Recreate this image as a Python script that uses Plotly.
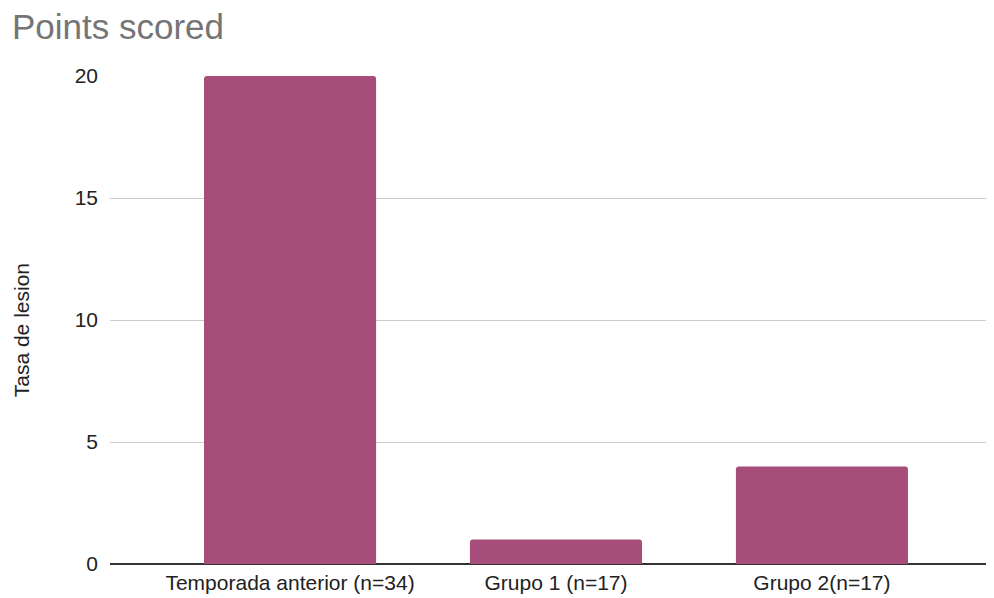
import plotly.graph_objects as go

categories = ["Temporada anterior (n=34)", "Grupo 1 (n=17)", "Grupo 2(n=17)"]
values = [20, 1, 4]
y_ticks = [0, 5, 10, 15, 20]
y_title = "Tasa de lesion"

# the page body adds an 8px offset; size the figure to fill the rest of the window
OFF = 8
W, H = 994 - OFF, 598 - OFF

fig = go.Figure(go.Bar(
    x=categories, y=values,
    marker=dict(color="#a64d79", line=dict(width=0)),
))

fig.update_layout(
    width=W, height=H,
    margin=dict(l=110 - OFF, r=0, t=76 - OFF, b=34),
    paper_bgcolor="white", plot_bgcolor="white",
    font=dict(family="Liberation Sans, Arial, sans-serif", size=21, color="#222222"),
    title=dict(text="Points scored", x=(12 - OFF) / W, xref="container", xanchor="left",
               y=1 - (27 - OFF) / H, yref="container", yanchor="middle",
               font=dict(size=35, color="#757575", family="Liberation Sans, Arial, sans-serif")),
    bargap=0.353,
    barcornerradius=3,
    showlegend=False,
    annotations=[dict(text=y_title, textangle=-90, xref="paper", yref="paper",
                      x=0, y=0.479, xanchor="center", yanchor="middle",
                      xshift=-89, showarrow=False,
                      font=dict(size=21, color="#222222"))],
)
fig.update_xaxes(range=[-0.677, 2.647], showgrid=False, showline=False, ticks="",
                 ticklabelstandoff=4, tickfont=dict(size=21))
fig.update_yaxes(range=[0, 20], tickvals=y_ticks, showgrid=True, gridcolor="#cccccc", gridwidth=1,
                 zeroline=True, zerolinecolor="#333333", zerolinewidth=2,
                 ticklabelstandoff=11, tickfont=dict(size=21))

fig.write_html("out.html")
